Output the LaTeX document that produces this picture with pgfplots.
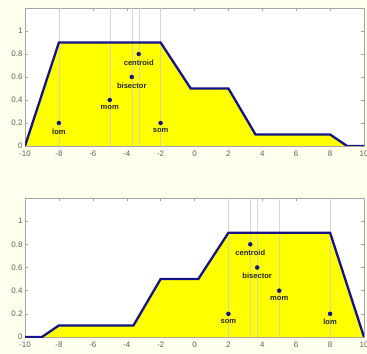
\documentclass[border=0pt]{standalone}
\usepackage{pgfplots}
\pgfplotsset{compat=1.18}
\usepackage{fontspec}
\setmainfont{Liberation Sans}
\definecolor{bg}{RGB}{255,255,238}
\definecolor{curve}{RGB}{20,20,135}
\definecolor{axisgray}{RGB}{165,165,165}
\definecolor{ticktext}{RGB}{95,95,95}
\definecolor{vline}{RGB}{205,205,205}
\definecolor{ylw}{RGB}{255,255,0}
\pgfplotsset{myax/.style={
  scale only axis, anchor=south west,
  xmin=-10, xmax=10, ymin=0, ymax=1.2,
  xtick={-10,-8,-6,-4,-2,0,2,4,6,8,10},
  ytick={0,0.2,0.4,0.6,0.8,1},
  axis line style={axisgray},
  tick style={axisgray, thin},
  major tick length=3bp,
  tick label style={font=\fontsize{8}{9}\selectfont, text=ticktext},
  /pgf/number format/assume math mode=true,
  axis background/.style={fill=white},
  yticklabel style={xshift=1bp},
  xticklabel style={yshift=-1.5bp},
}}
\pgfplotsset{defpts/.style={only marks, mark=*, mark size=2bp, color=curve,
  nodes near coords, point meta=explicit symbolic,
  every node near coord/.append style={font=\bfseries\fontsize{7.6}{9}\selectfont, text=black!85, anchor=north, yshift=-2bp}}}
\begin{document}
\begin{tikzpicture}[x=1bp,y=1bp]
\fill[bg] (0,0) rectangle (367,354);
\useasboundingbox (0,0) rectangle (367,354);
\begin{axis}[myax, at={(25bp,208bp)}, width=339bp, height=138bp]
\addplot[fill=ylw, draw=none] coordinates {(-10,0) (-8,0.9) (-2,0.9) (-0.222,0.5) (2,0.5) (3.6,0.1) (8,0.1) (9,0) (10,0)} \closedcycle;
\addplot[ycomb, vline, line width=0.4pt, opacity=0.8] coordinates {(-8,1.2) (-5,1.2) (-3.7,1.2) (-3.29,1.2) (-2,1.2)};
\addplot[curve, line width=2.3bp] coordinates {(-10,0) (-8,0.9) (-2,0.9) (-0.222,0.5) (2,0.5) (3.6,0.1) (8,0.1) (9,0) (10,0)};
\addplot[defpts] table[meta=label] {
x y label
-3.29 0.8 centroid
-3.7 0.6 bisector
-5 0.4 mom
-8 0.2 lom
-2 0.2 som
};
\end{axis}
\begin{axis}[myax, at={(25bp,17bp)}, width=339bp, height=139bp]
\addplot[fill=ylw, draw=none] coordinates {(-10,0) (-9,0) (-8,0.1) (-3.6,0.1) (-2,0.5) (0.222,0.5) (2,0.9) (8,0.9) (10,0)} \closedcycle;
\addplot[ycomb, vline, line width=0.4pt, opacity=0.8] coordinates {(8,1.2) (5,1.2) (3.7,1.2) (3.29,1.2) (2,1.2)};
\addplot[curve, line width=2.3bp] coordinates {(-10,0) (-9,0) (-8,0.1) (-3.6,0.1) (-2,0.5) (0.222,0.5) (2,0.9) (8,0.9) (10,0)};
\addplot[defpts] table[meta=label] {
x y label
3.29 0.8 centroid
3.7 0.6 bisector
5 0.4 mom
8 0.2 lom
2 0.2 som
};
\end{axis}
\end{tikzpicture}
\end{document}
